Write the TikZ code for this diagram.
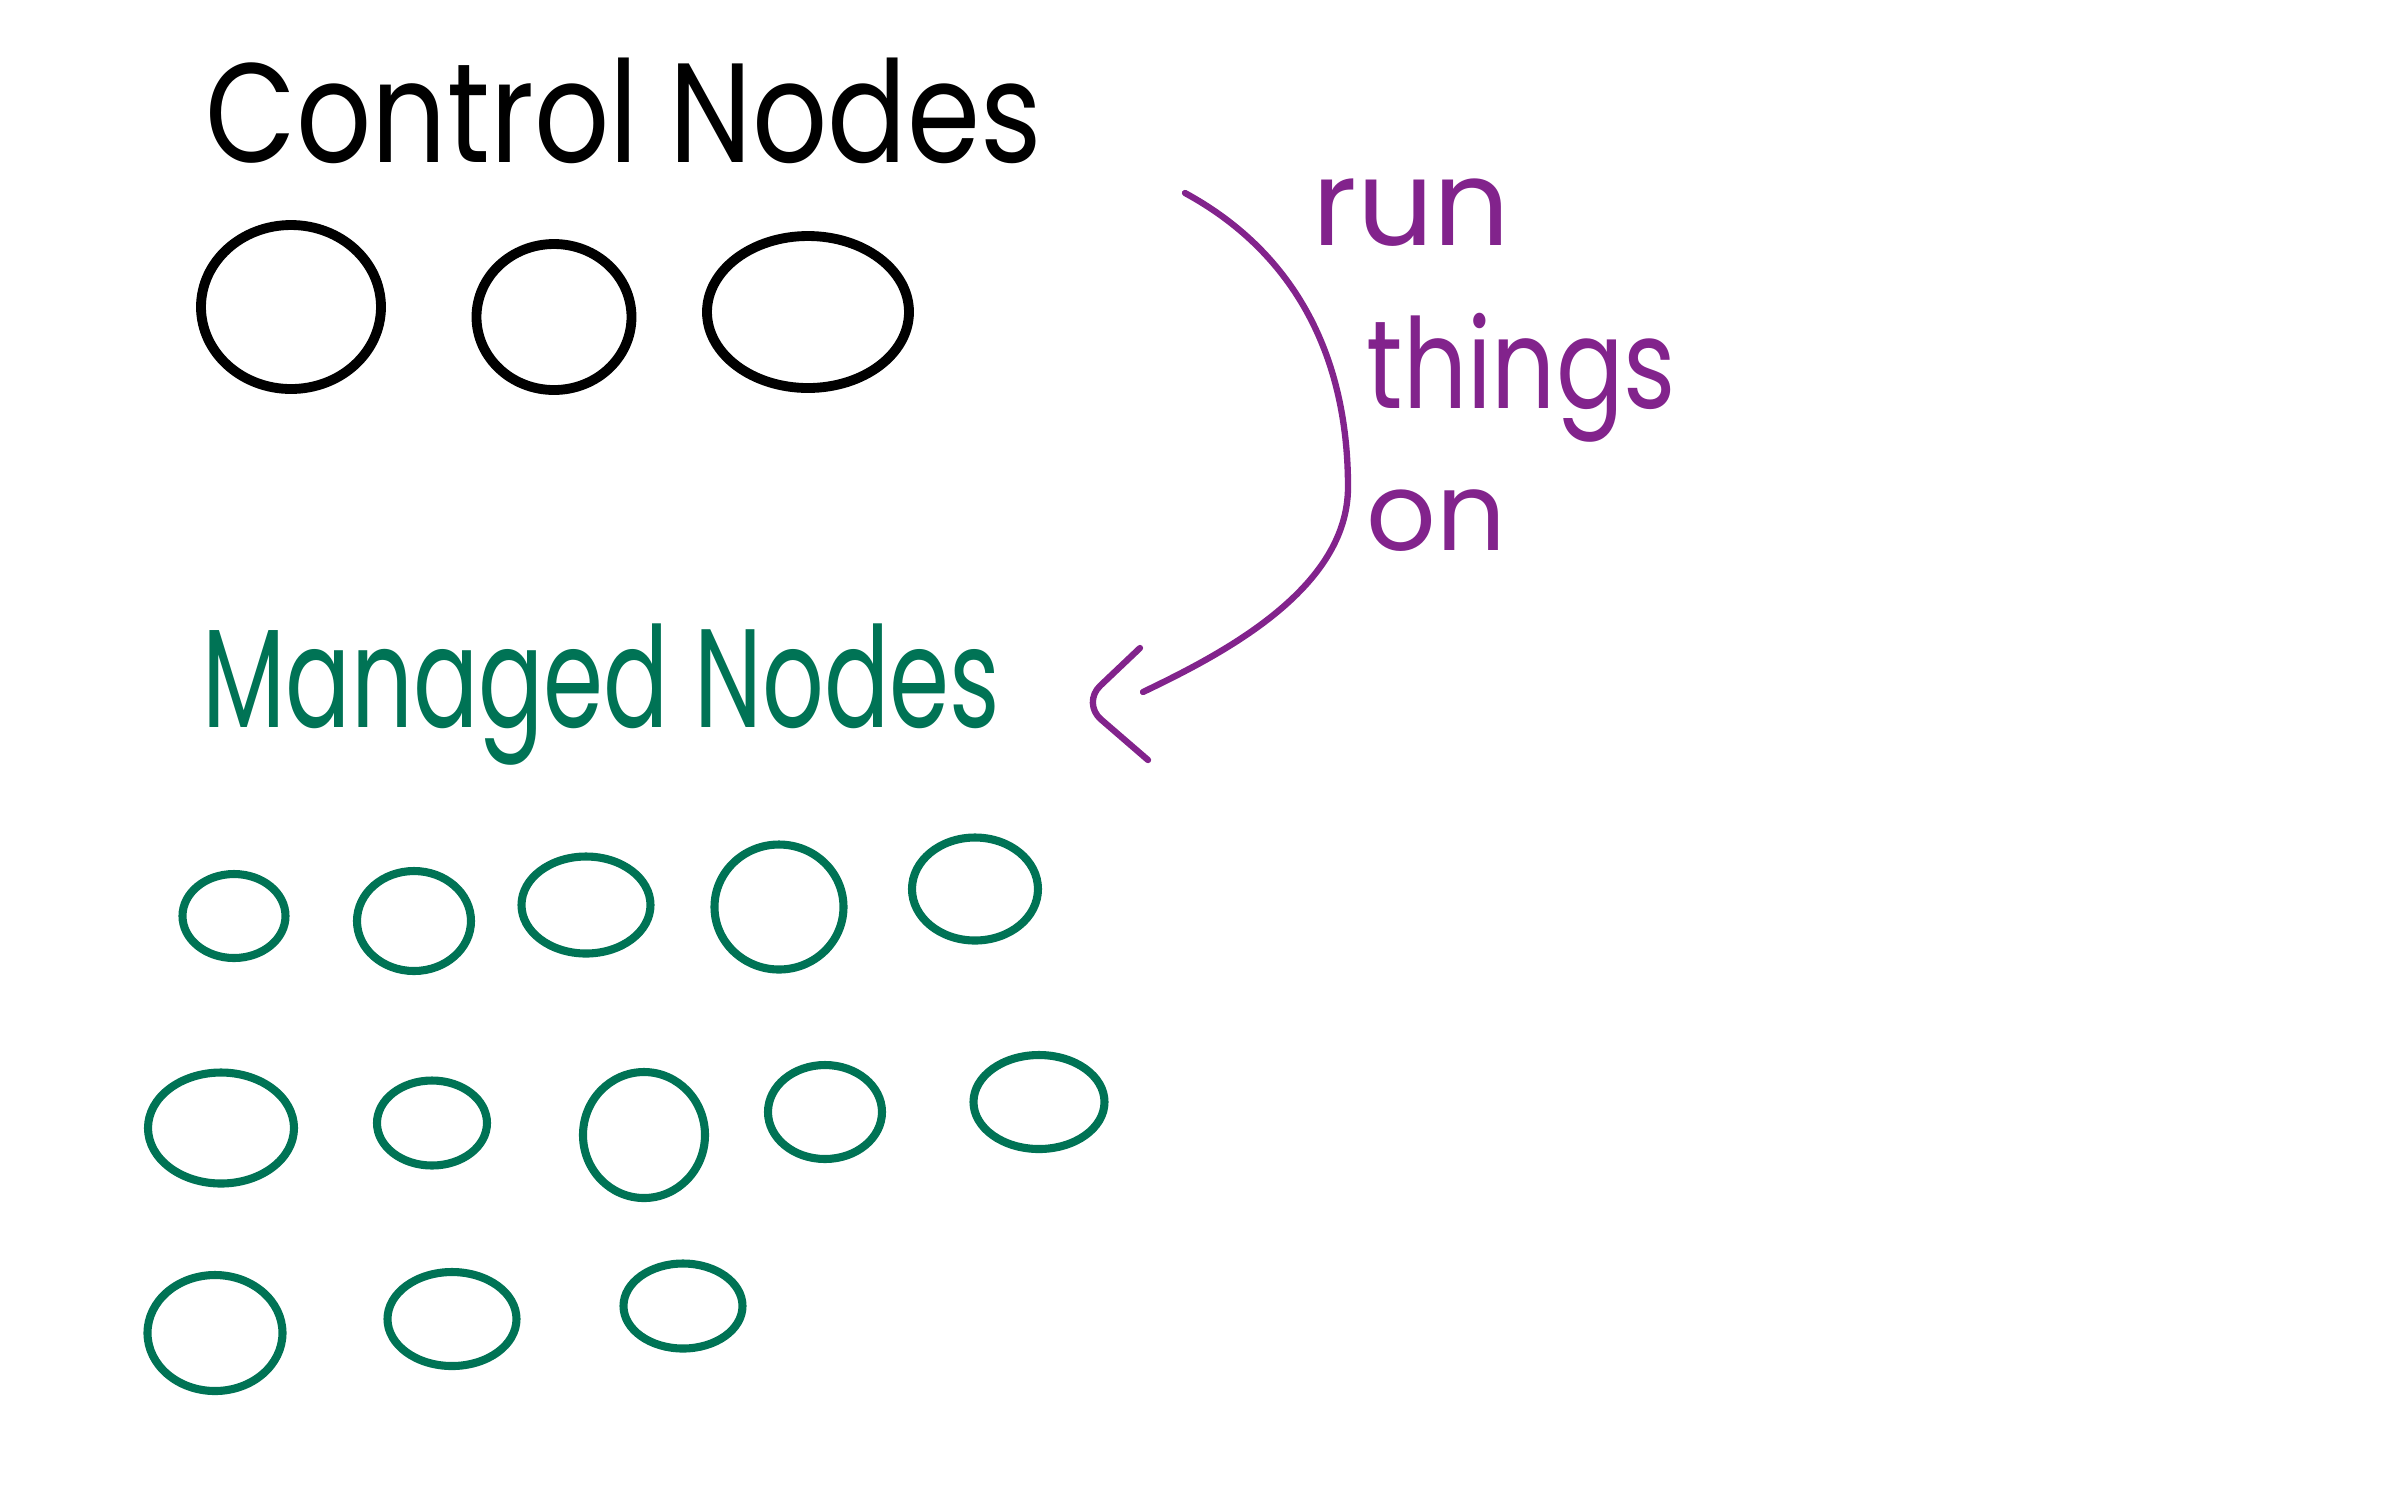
\documentclass[tikz,border=0pt]{standalone}
\usepackage{graphicx}
\usepackage{fontspec}
\setmainfont{Poppins}
\usetikzlibrary{shapes.geometric}
\definecolor{mgdgreen}{RGB}{0,115,85}
\definecolor{runpurple}{RGB}{130,35,140}
\begin{document}
\begin{tikzpicture}[
  every node/.style={font=\fontsize{31}{36}\selectfont, inner sep=0pt},
  ctrl/.style={draw=black, ellipse, line width=2.8pt},
  mgd/.style={draw=mgdgreen, ellipse, line width=2.3pt},
  lbl/.style={anchor=base west},
  line/.style={draw=runpurple, line width=1.8pt, line cap=round, line join=round}
]
\useasboundingbox (0,0) rectangle (23.86,-14.91);

% Titles
\node[lbl, font=\fontsize{33.5}{40}\selectfont] (ctrllbl) at (2.05,-1.62) {\scalebox{1}[1.2]{Control Nodes}};
\node[lbl, font=\fontsize{27.5}{33}\selectfont, text=mgdgreen] (mgdlbl) at (2.02,-7.27) {\scalebox{1}[1.45]{Managed Nodes}};

% Control nodes
\node[ctrl, minimum width=1.80cm, minimum height=1.64cm] (cn1) at (2.91,-3.07) {};
\node[ctrl, minimum width=1.55cm, minimum height=1.46cm] (cn2) at (5.54,-3.17) {};
\node[ctrl, minimum width=2.02cm, minimum height=1.52cm] (cn3) at (8.08,-3.12) {};

% Managed nodes - row 1
\node[mgd, minimum width=1.03cm, minimum height=0.84cm] (mn1) at (2.34,-9.16) {};
\node[mgd, minimum width=1.14cm, minimum height=1.00cm] (mn2) at (4.14,-9.21) {};
\node[mgd, minimum width=1.29cm, minimum height=0.97cm] (mn3) at (5.86,-9.05) {};
\node[mgd, minimum width=1.29cm, minimum height=1.25cm] (mn4) at (7.79,-9.07) {};
\node[mgd, minimum width=1.26cm, minimum height=1.03cm] (mn5) at (9.75,-8.89) {};

% Managed nodes - row 2
\node[mgd, minimum width=1.46cm, minimum height=1.11cm] (mn6) at (2.21,-11.28) {};
\node[mgd, minimum width=1.10cm, minimum height=0.85cm] (mn7) at (4.32,-11.23) {};
\node[mgd, minimum width=1.22cm, minimum height=1.26cm] (mn8) at (6.44,-11.35) {};
\node[mgd, minimum width=1.14cm, minimum height=0.94cm] (mn9) at (8.25,-11.12) {};
\node[mgd, minimum width=1.31cm, minimum height=0.94cm] (mn10) at (10.39,-11.02) {};

% Managed nodes - row 3
\node[mgd, minimum width=1.35cm, minimum height=1.16cm] (mn11) at (2.15,-13.33) {};
\node[mgd, minimum width=1.29cm, minimum height=0.94cm] (mn12) at (4.52,-13.19) {};
\node[mgd, minimum width=1.19cm, minimum height=0.85cm] (mn13) at (6.83,-13.06) {};

% Arrow label
\node[lbl, font=\fontsize{34}{40}\selectfont, text=runpurple] (runlbl) at (13.12,-2.45) {run};
\node[lbl, font=\fontsize{28.5}{34}\selectfont, text=runpurple] (thingslbl) at (13.66,-4.08) {\scalebox{1}[1.25]{things}};
\node[lbl, text=runpurple] (onlbl) at (13.66,-5.50) {on};

% Arrow from control nodes to managed nodes
\coordinate (arrowstart) at (11.85,-1.93);
\coordinate (arrowtail) at (11.43,-6.92);
\coordinate (arrowend) at (10.82,-7.03);
\coordinate (headup) at (11.40,-6.48);
\coordinate (headdown) at (11.48,-7.60);
\draw[line] (arrowstart)
  .. controls (12.90,-2.50) and (13.48,-3.50) .. (13.48,-4.87)
  .. controls (13.48,-5.90) and (12.20,-6.55) .. (arrowtail);
\draw[line, rounded corners=2.5mm] (headup) -- (arrowend) -- (headdown);

\end{tikzpicture}
\end{document}
